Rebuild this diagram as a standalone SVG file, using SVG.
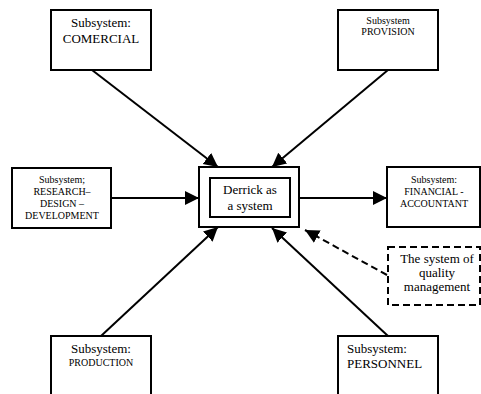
<svg xmlns="http://www.w3.org/2000/svg" width="481" height="394" viewBox="0 0 481 394">
  <style>
    .box { fill: #fff; stroke: #000; stroke-width: 2; }
    .dash { fill: #fff; stroke: #000; stroke-width: 2; stroke-dasharray: 7 4; }
    .link { stroke: #000; stroke-width: 2; fill: none; marker-end: url(#arrow); }
    .link-dash { stroke: #000; stroke-width: 2; fill: none; stroke-dasharray: 7 4; marker-end: url(#arrow); }
    text { font-family: "Liberation Serif", "Times New Roman", serif; fill: #000; }
    .big { font-size: 13px; }
    .small { font-size: 10px; }
    .mid { text-anchor: middle; }
  </style>
  <defs>
    <marker id="arrow" markerUnits="userSpaceOnUse" markerWidth="15" markerHeight="15" refX="14" refY="7" orient="auto">
      <path d="M0,0 L14,7 L0,14 z" fill="#000"/>
    </marker>
  </defs>

  <g id="connectors">
    <line class="link" x1="92" y1="70" x2="218" y2="167"/>
    <line class="link" x1="388" y1="70" x2="272" y2="167"/>
    <line class="link" x1="111" y1="198" x2="199" y2="198"/>
    <line class="link" x1="299" y1="198" x2="387" y2="198"/>
    <line class="link" x1="101" y1="336" x2="218" y2="227"/>
    <line class="link" x1="388" y1="336" x2="272" y2="228"/>
    <line class="link-dash" x1="387" y1="275" x2="305" y2="230"/>
  </g>

  <g id="commercial">
    <rect class="box" x="51" y="10" width="100" height="60"/>
    <text class="big mid" x="101" y="27">Subsystem:</text>
    <text class="big mid" x="101" y="43">COMERCIAL</text>
  </g>

  <g id="provision">
    <rect class="box" x="338" y="10" width="100" height="60"/>
    <text class="small mid" x="388" y="24">Subsystem</text>
    <text class="small mid" x="388" y="35">PROVISION</text>
  </g>

  <g id="research">
    <rect class="box" x="12" y="168" width="99" height="60"/>
    <text class="small mid" x="62" y="183">Subsystem;</text>
    <text class="small mid" x="62" y="195">RESEARCH–</text>
    <text class="small mid" x="62" y="207">DESIGN –</text>
    <text class="small mid" x="62" y="219">DEVELOPMENT</text>
  </g>

  <g id="derrick">
    <rect class="box" x="199" y="167" width="100" height="60"/>
    <rect class="box" x="210" y="178" width="80" height="39"/>
    <text class="big mid" x="250" y="194">Derrick as</text>
    <text class="big mid" x="250" y="210">a system</text>
  </g>

  <g id="financial">
    <rect class="box" x="387" y="167" width="93" height="60"/>
    <text class="small mid" x="434" y="183">Subsystem:</text>
    <text class="small mid" x="434" y="195">FINANCIAL -</text>
    <text class="small mid" x="434" y="207">ACCOUNTANT</text>
  </g>

  <g id="quality">
    <rect class="dash" x="388" y="247" width="92" height="58"/>
    <text class="big mid" x="437" y="263">The system of</text>
    <text class="big mid" x="437" y="277">quality</text>
    <text class="big mid" x="437" y="291">management</text>
  </g>

  <g id="production">
    <rect class="box" x="51" y="336" width="100" height="70"/>
    <text class="big mid" x="101" y="353">Subsystem:</text>
    <text class="small mid" x="101" y="366">PRODUCTION</text>
  </g>

  <g id="personnel">
    <rect class="box" x="338" y="336" width="100" height="70"/>
    <text class="big" x="347" y="353">Subsystem:</text>
    <text class="big" x="347" y="368">PERSONNEL</text>
  </g>
</svg>
